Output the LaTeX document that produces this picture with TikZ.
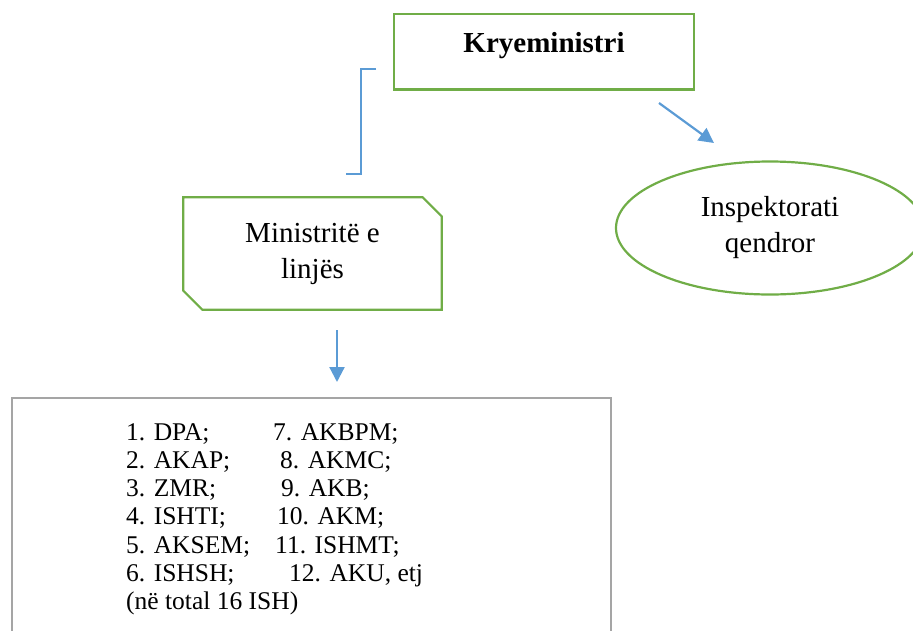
\documentclass[tikz,border=0pt]{standalone}
\usepackage{fontspec}
\setmainfont{Liberation Serif}
\newfontfamily\tnr{Liberation Serif}
\usetikzlibrary{shapes.geometric,arrows.meta}
\definecolor{grn}{HTML}{70AD47}
\definecolor{blu}{HTML}{5B9BD5}
\definecolor{gry}{HTML}{A5A5A5}
\begin{document}
\begin{tikzpicture}[x=1pt,y=-1pt,
  head/.style={font=\tnr\fontsize{29}{36}\selectfont},
  item/.style={anchor=base west, inner sep=0pt, font=\tnr\fontsize{25.5}{28}\selectfont},
  arr/.style={draw=blu, line width=2.2pt, -{Triangle[length=15pt,width=15pt]}},
  bracketline/.style={draw=blu, line width=1.2pt},
]
\useasboundingbox (0,0) rectangle (913,630);
\clip (0,0) rectangle (913,630);

% top box
\node[draw=grn, line width=2.5pt, minimum width=300pt, minimum height=75.5pt, inner sep=0pt] (k) at (544,51.75) {};
\node[head, anchor=base, inner sep=0pt] (kt) at (544,52) {\bfseries Kryeministri};

% ministries box (snipped corners)
\node[head, minimum width=258pt, minimum height=112pt, inner sep=0pt, align=center] (m) at (312.5,253.5) {Ministritë e\\linjës};
\draw[grn, line width=2.2pt, line join=miter]
  (m.north west) -- ([xshift=-19pt]m.north east) -- ([yshift=-19pt]m.north east)
  -- (m.south east) -- ([xshift=19pt]m.south west) -- ([yshift=19pt]m.south west) -- cycle;

% ellipse
\node[ellipse, draw=grn, line width=2.2pt, minimum width=308pt, minimum height=133pt, inner sep=0pt, align=center, head] (e) at (770,228) {Inspektorati\\qendror};

% bottom list box
\node[draw=gry, line width=2pt, minimum width=599pt, minimum height=263pt, inner sep=0pt, anchor=north west] (list) at (11,397) {};

\node[item] (a1) at (126,440) {1. DPA;};
\node[item] (a2) at (126,468.3) {2. AKAP;};
\node[item] (a3) at (126,496.6) {3. ZMR;};
\node[item] (a4) at (126,524.9) {4. ISHTI;};
\node[item] (a5) at (126,553.2) {5. AKSEM;};
\node[item] (a6) at (126,581.5) {6. ISHSH;};
\node[item] (a7) at (126,609.8) {(në total 16 ISH)};
\node[item] (b1) at (273,440) {7. AKBPM;};
\node[item] (b2) at (280,468.3) {8. AKMC;};
\node[item] (b3) at (281,496.6) {9. AKB;};
\node[item] (b4) at (277,524.9) {10. AKM;};
\node[item] (b5) at (275,553.2) {11. ISHMT;};
\node[item] (b6) at (289,581.5) {12. AKU, etj};

% connectors
\coordinate (d1) at (659,103);
\coordinate (d2) at (714,143);
\draw[arr] (d1) -- (d2);
\coordinate (v1) at (337,330);
\coordinate (v2) at (337,382);
\draw[arr] (v1) -- (v2);

% bracket
\coordinate (br1) at (376,69);
\coordinate (br2) at (361,69);
\coordinate (br3) at (361,174);
\coordinate (br4) at (346,174);
\draw[bracketline] (br1) -- (br2) -- (br3) -- (br4);
\end{tikzpicture}
\end{document}
